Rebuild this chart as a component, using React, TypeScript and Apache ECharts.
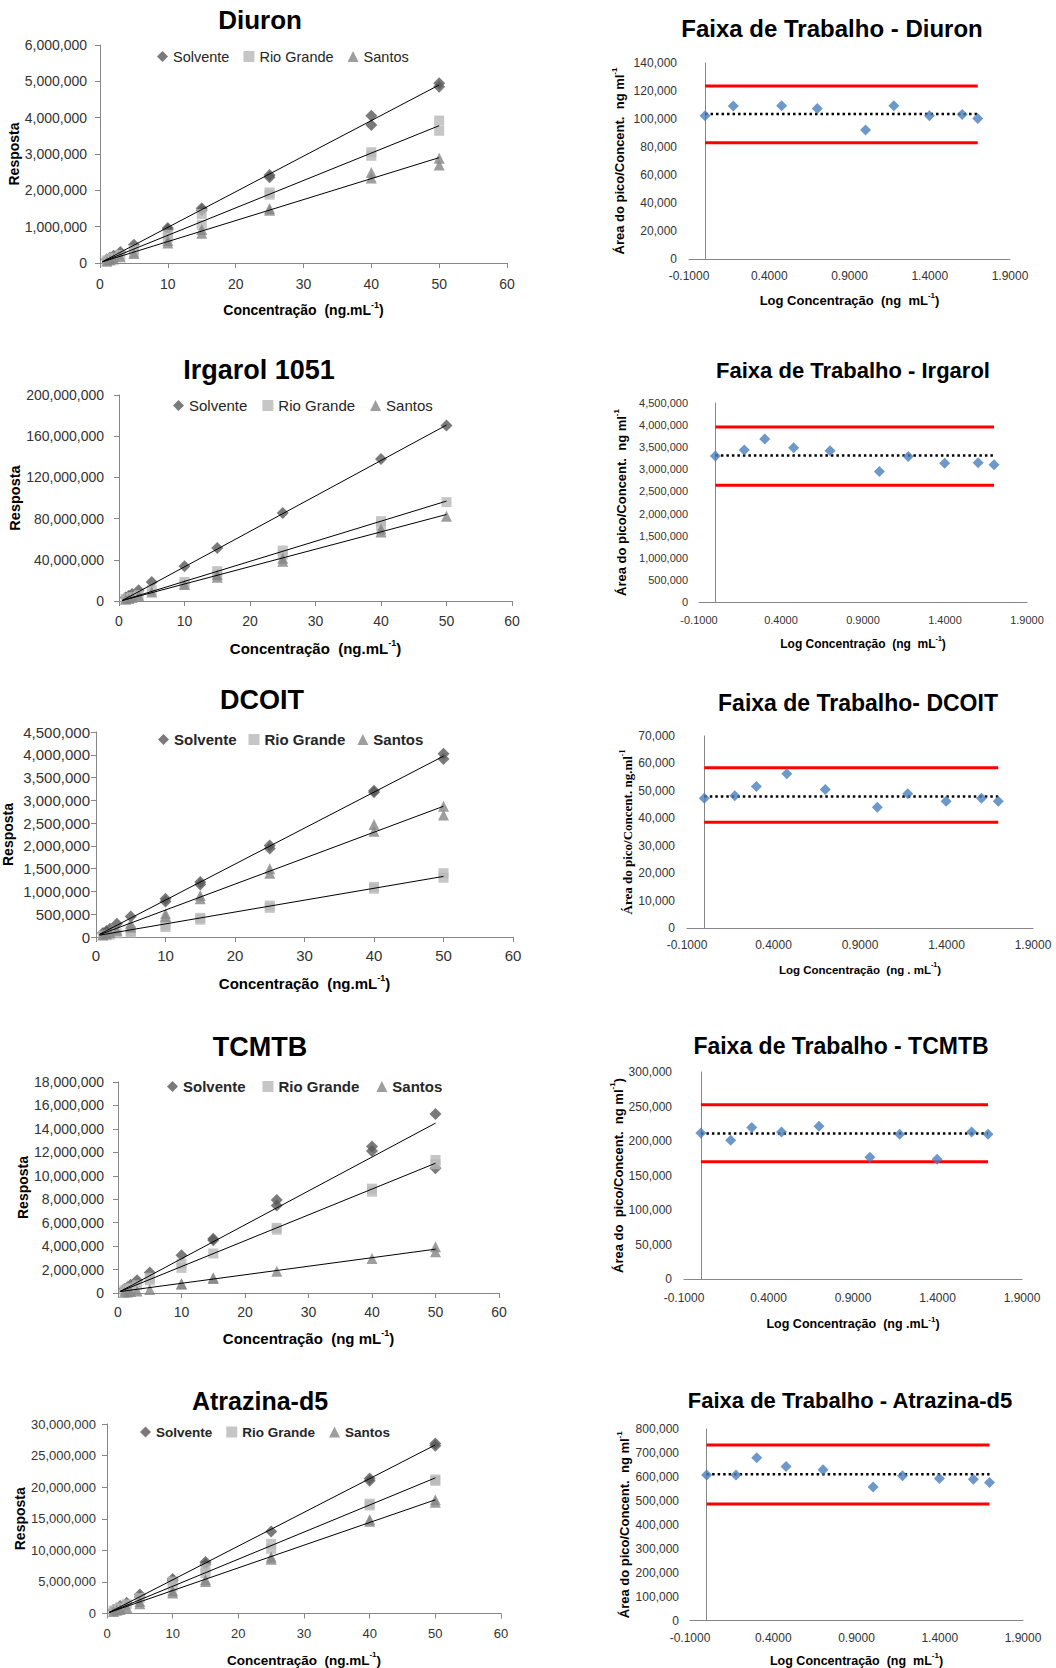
import React, { useEffect, useRef } from 'react';
import * as echarts from 'echarts';

const SANS = 'Arial, "Liberation Sans", Helvetica, sans-serif';
const SERIF = '"Times New Roman", "Liberation Serif", serif';

// ---------------- Calibration curves (x: concentration ng/mL, y: response) ----------------
const groupNames = ['Solvente', 'Rio Grande', 'Santos'];
const groupSymbols = ['diamond', 'rect', 'triangle'];
const groupSymbolSizes = [12, 10, 11];
const groupColors = ['#595959', '#b8b8b8', '#868686'];

// Diuron
const diuronSolvente = [[1, 0.10e6], [1.5, 0.15e6], [2, 0.20e6], [3, 0.30e6], [5, 0.50e6], [10, 0.96e6], [10, 0.92e6], [15, 1.51e6], [15, 1.45e6], [25, 2.42e6], [25, 2.36e6], [40, 4.05e6], [40, 3.80e6], [50, 4.95e6], [50, 4.85e6]];
const diuronRio = [[1, 0.07e6], [1.5, 0.11e6], [2, 0.15e6], [3, 0.22e6], [5, 0.36e6], [5, 0.28e6], [10, 0.78e6], [10, 0.70e6], [15, 1.35e6], [15, 1.05e6], [25, 1.94e6], [25, 1.88e6], [40, 3.05e6], [40, 2.95e6], [50, 3.92e6], [50, 3.64e6]];
const diuronSantos = [[1, 0.05e6], [1.5, 0.08e6], [2, 0.11e6], [3, 0.17e6], [5, 0.26e6], [10, 0.55e6], [10, 0.62e6], [15, 0.82e6], [15, 0.92e6], [25, 1.45e6], [25, 1.50e6], [40, 2.49e6], [40, 2.34e6], [50, 2.88e6], [50, 2.70e6]];
const diuronTrendSolvente = [[0.3, 0.03e6], [50, 4.90e6]];
const diuronTrendRio = [[0.3, 0.03e6], [50, 3.78e6]];
const diuronTrendSantos = [[0.3, 0.03e6], [50, 2.90e6]];

// Irgarol 1051
const irgarolSolvente = [[1, 3.4e6], [1.5, 5.1e6], [2, 6.9e6], [3, 10.4e6], [5, 18.5e6], [10, 33.8e6], [15, 51.5e6], [25, 85.5e6], [40, 137.8e6], [50, 170.5e6]];
const irgarolRio = [[1, 1.9e6], [1.5, 2.8e6], [2, 3.8e6], [3, 5.7e6], [5, 10.4e6], [10, 18.5e6], [10, 16e6], [15, 29e6], [15, 25.5e6], [25, 49e6], [25, 45e6], [40, 77.5e6], [40, 73e6], [50, 96e6]];
const irgarolSantos = [[1, 1.6e6], [1.5, 2.4e6], [2, 3.3e6], [3, 5e6], [5, 8.8e6], [10, 15.9e6], [15, 25.6e6], [15, 23e6], [25, 41.5e6], [25, 38.5e6], [40, 70e6], [40, 67e6], [50, 82.3e6]];
const irgarolTrendSolvente = [[0.5, 0.5e6], [50, 170.8e6]];
const irgarolTrendRio = [[0.5, 0.5e6], [50, 97e6]];
const irgarolTrendSantos = [[0.5, 0.5e6], [50, 84e6]];

// DCOIT
const dcoitSolvente = [[1, 0.09e6], [1.5, 0.13e6], [2, 0.18e6], [3, 0.29e6], [5, 0.45e6], [10, 0.84e6], [10, 0.78e6], [15, 1.21e6], [15, 1.15e6], [25, 2.01e6], [25, 1.94e6], [40, 3.21e6], [40, 3.18e6], [50, 4.02e6], [50, 3.91e6]];
const dcoitRio = [[1, 0.03e6], [1.5, 0.04e6], [2, 0.05e6], [3, 0.08e6], [5, 0.13e6], [5, 0.10e6], [10, 0.26e6], [10, 0.22e6], [15, 0.42e6], [15, 0.38e6], [25, 0.69e6], [25, 0.64e6], [40, 1.10e6], [40, 1.06e6], [50, 1.40e6], [50, 1.30e6]];
const dcoitSantos = [[1, 0.05e6], [1.5, 0.07e6], [2, 0.10e6], [3, 0.15e6], [5, 0.22e6], [5, 0.30e6], [10, 0.51e6], [10, 0.45e6], [15, 0.91e6], [15, 0.84e6], [25, 1.50e6], [25, 1.40e6], [40, 2.47e6], [40, 2.32e6], [50, 2.87e6], [50, 2.68e6]];
const dcoitTrendSolvente = [[0.5, 0.06e6], [50, 3.97e6]];
const dcoitTrendRio = [[0.5, 0.04e6], [50, 1.33e6]];
const dcoitTrendSantos = [[0.5, 0.05e6], [50, 2.87e6]];

// TCMTB
const tcmtbSolvente = [[1, 0.35e6], [1.5, 0.5e6], [2, 0.7e6], [3, 1.08e6], [5, 1.74e6], [10, 3.22e6], [15, 4.62e6], [15, 4.5e6], [25, 7.93e6], [25, 7.47e6], [40, 12.49e6], [40, 12.12e6], [50, 15.26e6], [50, 10.64e6]];
const tcmtbRio = [[1, 0.22e6], [1.5, 0.33e6], [2, 0.45e6], [3, 0.66e6], [5, 1.08e6], [5, 1.3e6], [10, 2.14e6], [10, 2.5e6], [15, 3.37e6], [25, 5.56e6], [25, 5.4e6], [40, 8.64e6], [40, 8.9e6], [50, 11.35e6], [50, 10.98e6]];
const tcmtbSantos = [[1, 0.06e6], [1.5, 0.09e6], [2, 0.12e6], [3, 0.18e6], [5, 0.29e6], [10, 0.74e6], [10, 0.82e6], [15, 1.23e6], [15, 1.3e6], [25, 1.85e6], [40, 2.94e6], [50, 3.94e6], [50, 3.51e6]];
const tcmtbTrendSolvente = [[0.3, 0.12e6], [50, 14.49e6]];
const tcmtbTrendRio = [[0.3, 0.12e6], [50, 11.07e6]];
const tcmtbTrendSantos = [[0.3, 0.12e6], [50, 3.74e6]];

// Atrazina-d5
const atrazinaSolvente = [[1, 0.55e6], [1.5, 0.85e6], [2, 1.2e6], [3, 1.71e6], [5, 3.0e6], [5, 2.6e6], [10, 5.48e6], [10, 5.2e6], [15, 8.17e6], [15, 7.8e6], [25, 12.98e6], [40, 21.37e6], [40, 21.0e6], [50, 26.9e6], [50, 26.54e6]];
const atrazinaRio = [[1, 0.45e6], [1.5, 0.7e6], [2, 0.95e6], [3, 1.45e6], [5, 2.48e6], [10, 5.07e6], [10, 4.29e6], [15, 7.14e6], [15, 6.36e6], [25, 11.02e6], [25, 10.24e6], [40, 17.38e6], [40, 17.1e6], [50, 21.2e6], [50, 21.0e6]];
const atrazinaSantos = [[1, 0.33e6], [1.5, 0.5e6], [2, 0.65e6], [3, 0.95e6], [5, 1.55e6], [5, 1.9e6], [10, 3.26e6], [10, 3.6e6], [15, 5.07e6], [15, 5.4e6], [25, 8.95e6], [25, 8.6e6], [40, 14.9e6], [40, 14.6e6], [50, 18.0e6], [50, 17.6e6]];
const atrazinaTrendSolvente = [[0.3, 0.15e6], [50, 26.69e6]];
const atrazinaTrendRio = [[0.3, 0.15e6], [50, 21.47e6]];
const atrazinaTrendSantos = [[0.3, 0.15e6], [50, 18.0e6]];

// ---------------- Working range (x: log concentration, y: area / concentration) ----------------
const logConcDiuron = [0, 0.1761, 0.4771, 0.699, 1.0, 1.1761, 1.3979, 1.6021, 1.699];
const logConc = [0, 0.1761, 0.301, 0.4771, 0.699, 1.0, 1.1761, 1.3979, 1.6021, 1.699];
const logTicks = [-0.1, 0.4, 0.9, 1.4, 1.9];

const diuronFactor = [102300, 109200, 109400, 107500, 92100, 109400, 102300, 103200, 100400];
const diuronLimits = [103500, 123600, 83100]; // mean, upper, lower
const irgarolFactor = [3300000, 3440000, 3685000, 3490000, 3420000, 2950000, 3290000, 3135000, 3150000, 3105000];
const irgarolLimits = [3310000, 3956000, 2640000];
const dcoitFactor = [47300, 48200, 51600, 56200, 50500, 44000, 48900, 46200, 47300, 46200];
const dcoitLimits = [47900, 58400, 38600];
const tcmtbFactor = [211700, 201100, 219500, 213200, 221400, 176500, 209800, 173600, 213200, 209800];
const tcmtbLimits = [210800, 252700, 169800];
const atrazinaFactor = [608000, 608000, 680000, 643000, 630000, 558000, 605000, 593000, 590000, 576000];
const atrazinaLimits = [611000, 733000, 487000];

// ---------------- Panel definitions ----------------
const leftPanels = [
  { title: 'Diuron', xName: ['Concentração  (ng.mL', '-1', ')'], groups: [diuronSolvente, diuronRio, diuronSantos], trends: [diuronTrendSolvente, diuronTrendRio, diuronTrendSantos], yMax: 6e6, yInterval: 1e6 },
  { title: 'Irgarol 1051', xName: ['Concentração  (ng.mL', '-1', ')'], groups: [irgarolSolvente, irgarolRio, irgarolSantos], trends: [irgarolTrendSolvente, irgarolTrendRio, irgarolTrendSantos], yMax: 200e6, yInterval: 40e6 },
  { title: 'DCOIT', xName: ['Concentração  (ng.mL', '-1', ')'], groups: [dcoitSolvente, dcoitRio, dcoitSantos], trends: [dcoitTrendSolvente, dcoitTrendRio, dcoitTrendSantos], yMax: 4.5e6, yInterval: 0.5e6 },
  { title: 'TCMTB', xName: ['Concentração  (ng mL', '-1', ')'], groups: [tcmtbSolvente, tcmtbRio, tcmtbSantos], trends: [tcmtbTrendSolvente, tcmtbTrendRio, tcmtbTrendSantos], yMax: 18e6, yInterval: 2e6 },
  { title: 'Atrazina-d5', xName: ['Concentração  (ng.mL', '-1', ')'], groups: [atrazinaSolvente, atrazinaRio, atrazinaSantos], trends: [atrazinaTrendSolvente, atrazinaTrendRio, atrazinaTrendSantos], yMax: 30e6, yInterval: 5e6 },
];

const rightPanels = [
  { title: 'Faixa de Trabalho - Diuron', x: logConcDiuron, y: diuronFactor, limits: diuronLimits, yMax: 140000, yInterval: 20000, xName: ['Log Concentração  (ng  mL', '-1', ')'], yName: ['Área do pico/Concent.  ng ml', '-1', ''] },
  { title: 'Faixa de Trabalho - Irgarol', x: logConc, y: irgarolFactor, limits: irgarolLimits, yMax: 4500000, yInterval: 500000, xName: ['Log Concentração  (ng  mL', '-1', ')'], yName: ['Área do pico/Concent.  ng ml', '-1', ''] },
  { title: 'Faixa de Trabalho- DCOIT', x: logConc, y: dcoitFactor, limits: dcoitLimits, yMax: 70000, yInterval: 10000, xName: ['Log Concentração  (ng . mL', '-1', ')'], yName: ['Área do pico/Concent. ng.ml', '-1', ''] },
  { title: 'Faixa de Trabalho - TCMTB', x: logConc, y: tcmtbFactor, limits: tcmtbLimits, yMax: 300000, yInterval: 50000, xName: ['Log Concentração  (ng .mL', '-1', ')'], yName: ['Área do  pico/Concent.  ng ml', '-1', ')'] },
  { title: 'Faixa de Trabalho - Atrazina-d5', x: logConc, y: atrazinaFactor, limits: atrazinaLimits, yMax: 800000, yInterval: 100000, xName: ['Log Concentração  (ng  mL', '-1', ')'], yName: ['Área do pico/Concent.  ng ml', '-1', ''] },
];

// Layout (pixel positions / sizes)
const leftLayout = [
  { grid: { left: 100, top: 45, width: 407, height: 218 }, tcx: 260, tcy: 20, tfs: 26, lgLeft: 157, lgCy: 57, lgFs: 14.5, lgBold: false, lgGap: 14, fs: 14, xMargin: 14, yMargin: 13, xNameFs: 14, xNameGap: 37, yNameFs: 14, yNameGap: 76 },
  { grid: { left: 119, top: 395, width: 393, height: 206 }, tcx: 259, tcy: 370, tfs: 27, lgLeft: 173, lgCy: 406, lgFs: 15, lgBold: false, lgGap: 15, fs: 14, xMargin: 13, yMargin: 15, xNameFs: 15, xNameGap: 37, yNameFs: 14.5, yNameGap: 97 },
  { grid: { left: 96, top: 732, width: 417, height: 205 }, tcx: 262, tcy: 700, tfs: 27, lgLeft: 158, lgCy: 740, lgFs: 15, lgBold: true, lgGap: 12, fs: 15, xMargin: 11, yMargin: 6, xNameFs: 15, xNameGap: 36, yNameFs: 14, yNameGap: 81 },
  { grid: { left: 118, top: 1082, width: 381, height: 211 }, tcx: 260, tcy: 1047, tfs: 27, lgLeft: 167, lgCy: 1087, lgFs: 15, lgBold: true, lgGap: 17, fs: 14, xMargin: 12, yMargin: 14, xNameFs: 15, xNameGap: 35, yNameFs: 14, yNameGap: 88 },
  { grid: { left: 107, top: 1424, width: 394, height: 194 }, tcx: 260, tcy: 1401, tfs: 25, lgLeft: 140, lgCy: 1433, lgFs: 13.5, lgBold: true, lgGap: 14, fs: 13, xMargin: 13, yMargin: 11, xNameFs: 13.5, xNameGap: 37, yNameFs: 14, yNameGap: 78 },
];

const rightLayout = [
  { grid: { left: 689, top: 63, width: 321, height: 196 }, tcx: 832, tcy: 28, tfs: 24, fs: 12, xMargin: 11, yMargin: 12, xNameFs: 13, xNameGap: 32, yNameFs: 13, yNameGap: 63, serif: false },
  { grid: { left: 699, top: 403, width: 328, height: 199 }, tcx: 853, tcy: 370, tfs: 22, fs: 11, xMargin: 12, yMargin: 11, xNameFs: 12, xNameGap: 33, yNameFs: 13, yNameGap: 71, serif: false },
  { grid: { left: 687, top: 736, width: 346, height: 192 }, tcx: 858, tcy: 703, tfs: 23, fs: 12, xMargin: 11, yMargin: 12, xNameFs: 11.5, xNameGap: 33, yNameFs: 13, yNameGap: 53, serif: true },
  { grid: { left: 684, top: 1072, width: 338, height: 207 }, tcx: 841, tcy: 1046, tfs: 23, fs: 12, xMargin: 13, yMargin: 12, xNameFs: 12.5, xNameGap: 36, yNameFs: 13, yNameGap: 58, serif: false },
  { grid: { left: 690, top: 1429, width: 333, height: 192 }, tcx: 850, tcy: 1400, tfs: 22, fs: 12, xMargin: 11, yMargin: 11, xNameFs: 12.5, xNameGap: 31, yNameFs: 13, yNameGap: 59, serif: false },
];

const AXIS_COLOR = '#868686';
const LABEL_COLOR = '#333333';

function commas(v: number) {
  return Math.round(v).toLocaleString('en-US');
}

function richName(parts: string[]) {
  return `{a|${parts[0]}}{s|${parts[1]}}` + (parts[2] ? `{a|${parts[2]}}` : '');
}

function nameStyle(fs: number, family: string) {
  const sup = Math.round(fs * 0.62);
  return {
    rich: {
      a: { fontSize: fs, fontWeight: 'bold', fontFamily: family, color: '#000', verticalAlign: 'bottom', lineHeight: fs + 3 },
      s: { fontSize: sup, fontWeight: 'bold', fontFamily: family, color: '#000', verticalAlign: 'top', lineHeight: sup },
    },
  };
}

function buildOption() {
  const grid: any[] = [];
  const xAxis: any[] = [];
  const yAxis: any[] = [];
  const series: any[] = [];
  const title: any[] = [];
  const legend: any[] = [];
  let idx = 0;

  leftPanels.forEach((p, i) => {
    const L = leftLayout[i];
    grid.push({ ...L.grid, containLabel: false });
    title.push({
      text: p.title, left: L.tcx, top: L.tcy - L.tfs / 2, textAlign: 'center', padding: 0,
      textStyle: { fontSize: L.tfs, fontWeight: 'bold', color: '#000', fontFamily: SANS },
    });
    legend.push({
      left: L.lgLeft, top: L.lgCy - 8, padding: 0, itemWidth: 11, itemHeight: 11, itemGap: L.lgGap,
      selectedMode: false, data: groupNames,
      textStyle: { fontSize: L.lgFs, fontWeight: L.lgBold ? 'bold' : 'normal', color: '#262626', fontFamily: SANS },
    });
    xAxis.push({
      gridIndex: idx, type: 'value', min: 0, max: 60, interval: 10,
      axisLine: { show: true, onZero: false, lineStyle: { color: AXIS_COLOR, width: 1 } },
      axisTick: { show: true, length: 5, lineStyle: { color: AXIS_COLOR } },
      splitLine: { show: false },
      axisLabel: { fontSize: L.fs, color: LABEL_COLOR, margin: L.xMargin, fontFamily: SANS },
      name: richName(p.xName), nameLocation: 'middle', nameGap: L.xNameGap,
      nameTextStyle: nameStyle(L.xNameFs, SANS),
    });
    yAxis.push({
      gridIndex: idx, type: 'value', min: 0, max: p.yMax, interval: p.yInterval,
      axisLine: { show: true, lineStyle: { color: AXIS_COLOR, width: 1 } },
      axisTick: { show: true, length: 5, lineStyle: { color: AXIS_COLOR } },
      splitLine: { show: false },
      axisLabel: { fontSize: L.fs, color: LABEL_COLOR, margin: L.yMargin, fontFamily: SANS, formatter: commas },
      name: 'Resposta', nameLocation: 'middle', nameRotate: 90, nameGap: L.yNameGap,
      nameTextStyle: { fontSize: L.yNameFs, fontWeight: 'bold', color: '#000', fontFamily: SANS },
    });
    p.groups.forEach((g, k) => {
      series.push({
        type: 'scatter', name: groupNames[k], xAxisIndex: idx, yAxisIndex: idx,
        data: g, symbol: groupSymbols[k], symbolSize: groupSymbolSizes[k], z: 2 + k * 0.1,
        itemStyle: { color: groupColors[k] },
      });
    });
    p.trends.forEach((t, k) => {
      series.push({
        type: 'line', name: 'Linear (' + groupNames[k] + ')', xAxisIndex: idx, yAxisIndex: idx,
        data: t, symbol: 'none', silent: true, z: 5,
        lineStyle: { color: '#000', width: 1 },
      });
    });
    idx++;
  });

  rightPanels.forEach((p, i) => {
    const L = rightLayout[i];
    const fam = L.serif ? SERIF : SANS;
    grid.push({ ...L.grid, containLabel: false });
    title.push({
      text: p.title, left: L.tcx, top: L.tcy - L.tfs / 2, textAlign: 'center', padding: 0,
      textStyle: { fontSize: L.tfs, fontWeight: 'bold', color: '#000', fontFamily: SANS },
    });
    xAxis.push({
      gridIndex: idx, type: 'value', min: -0.1, max: 1.9,
      axisLine: { show: true, onZero: false, lineStyle: { color: AXIS_COLOR, width: 1 } },
      axisTick: { show: false },
      splitLine: { show: false },
      axisLabel: {
        fontSize: L.fs, color: LABEL_COLOR, margin: L.xMargin, fontFamily: SANS,
        customValues: logTicks, showMinLabel: true, showMaxLabel: true,
        formatter: (v: number) => v.toFixed(4),
      },
      name: richName(p.xName), nameLocation: 'middle', nameGap: L.xNameGap,
      nameTextStyle: nameStyle(L.xNameFs, SANS),
    });
    yAxis.push({
      gridIndex: idx, type: 'value', min: 0, max: p.yMax, interval: p.yInterval,
      axisLine: { show: true, lineStyle: { color: AXIS_COLOR, width: 1 } },
      axisTick: { show: false },
      splitLine: { show: false },
      axisLabel: { fontSize: L.fs, color: LABEL_COLOR, margin: L.yMargin, fontFamily: SANS, formatter: commas },
      name: richName(p.yName), nameLocation: 'middle', nameRotate: 90, nameGap: L.yNameGap,
      nameTextStyle: nameStyle(L.yNameFs, fam),
    });
    const x0 = p.x[0];
    const x1 = p.x[p.x.length - 1];
    const [mean, upper, lower] = p.limits;
    series.push({
      type: 'line', name: 'Limite superior', xAxisIndex: idx, yAxisIndex: idx, symbol: 'none', silent: true, z: 2,
      data: [[x0, upper], [x1, upper]], lineStyle: { color: '#ff0000', width: 3 },
    });
    series.push({
      type: 'line', name: 'Limite inferior', xAxisIndex: idx, yAxisIndex: idx, symbol: 'none', silent: true, z: 2,
      data: [[x0, lower], [x1, lower]], lineStyle: { color: '#ff0000', width: 3 },
    });
    series.push({
      type: 'line', name: 'Média', xAxisIndex: idx, yAxisIndex: idx, symbol: 'none', silent: true, z: 3,
      data: [[x0, mean], [x1, mean]], lineStyle: { color: '#000', width: 2.5, type: [2.5, 3] },
    });
    series.push({
      type: 'scatter', name: 'Área/Conc.', xAxisIndex: idx, yAxisIndex: idx, symbol: 'diamond', symbolSize: 11, z: 4,
      data: p.x.map((xv, j) => [xv, p.y[j]]), itemStyle: { color: '#4a7ebb' },
    });
    idx++;
  });

  return {
    animation: false,
    backgroundColor: '#ffffff',
    textStyle: { fontFamily: SANS },
    title, legend, grid, xAxis, yAxis, series,
  };
}

export default function App() {
  const ref = useRef<HTMLDivElement>(null);
  useEffect(() => {
    document.body.style.margin = '0';
    if (!ref.current) return;
    const chart = echarts.init(ref.current, undefined, { renderer: 'svg' });
    chart.setOption(buildOption() as any);
    return () => chart.dispose();
  }, []);
  return <div ref={ref} style={{ width: 1056, height: 1668, background: '#fff' }} />;
}
